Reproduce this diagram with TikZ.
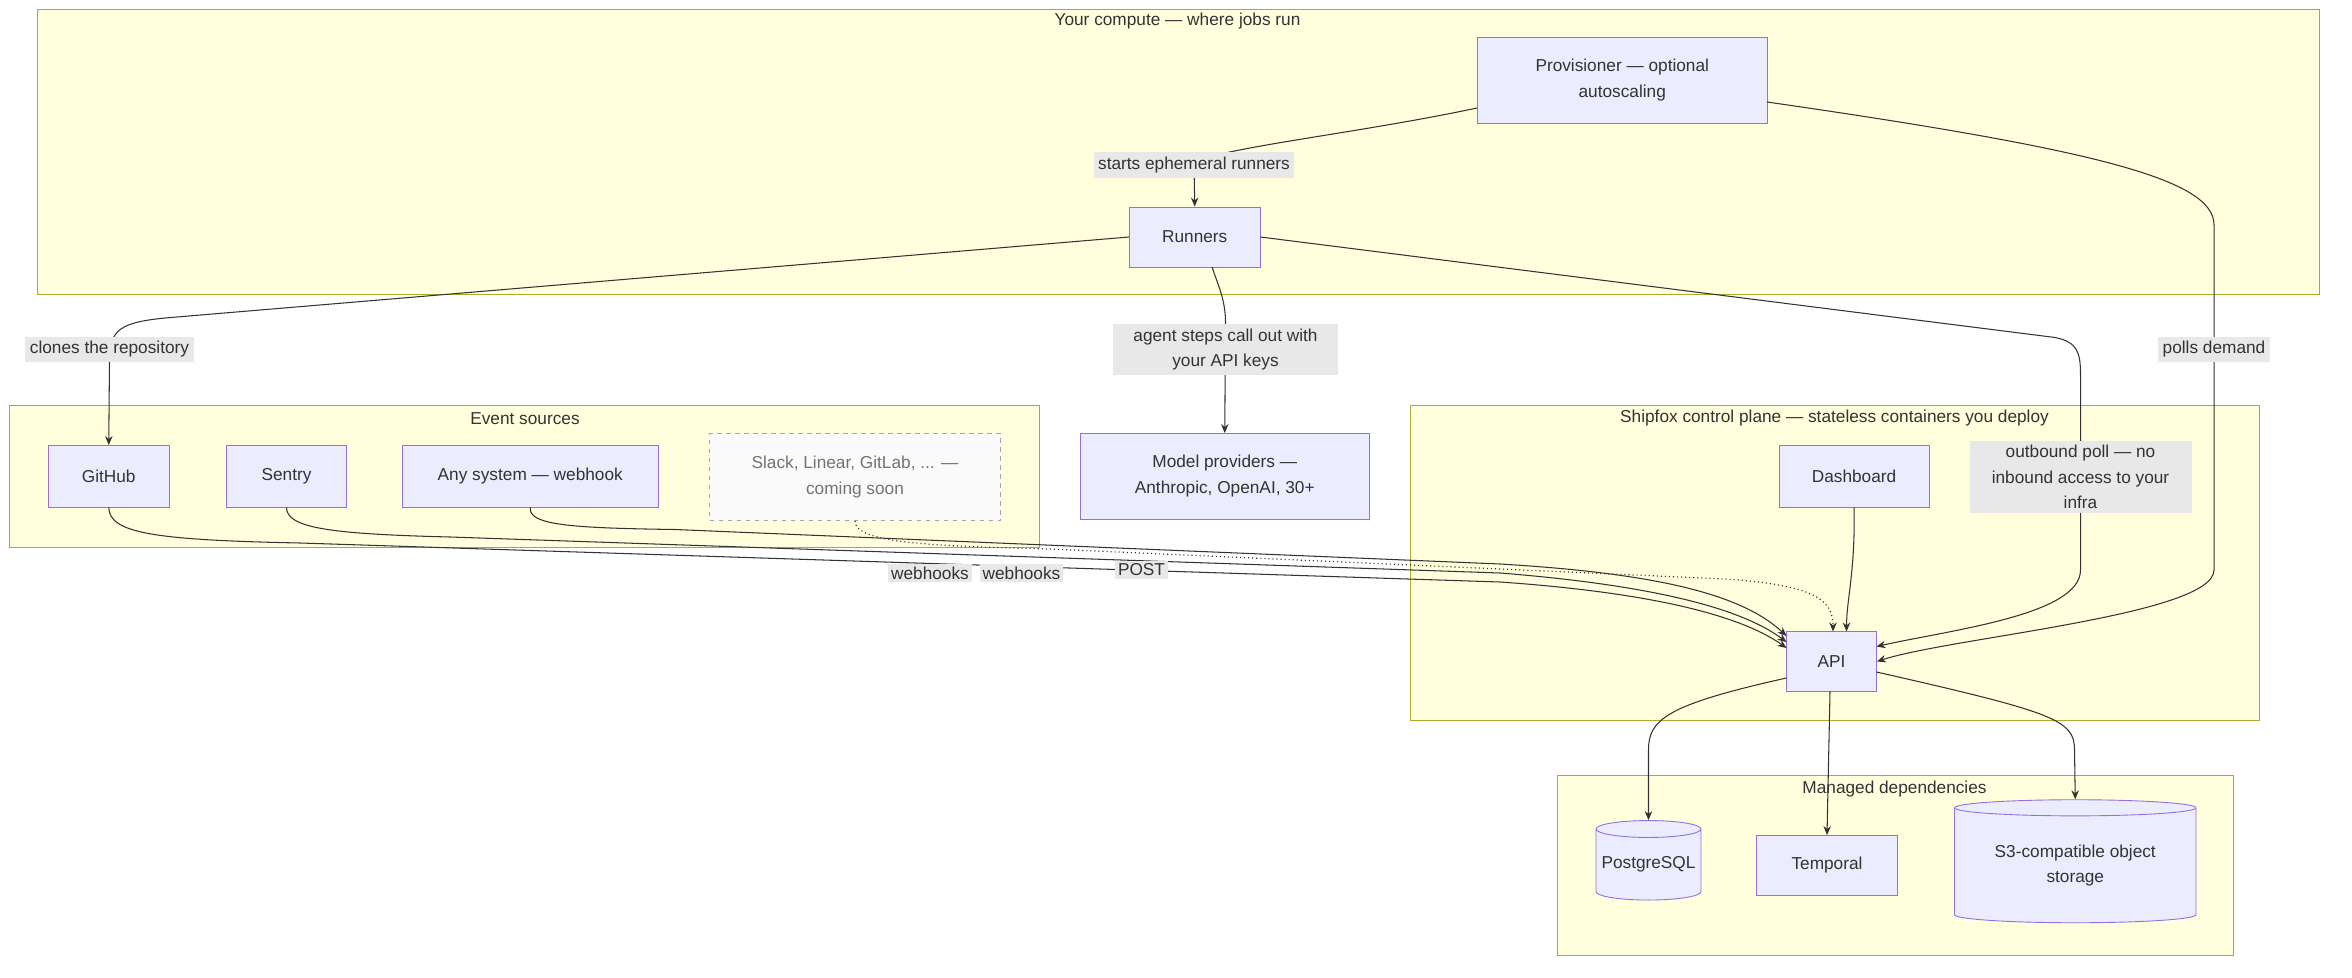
\documentclass[tikz,border=0pt]{standalone}
\usepackage{fontspec}
\setmainfont{Liberation Sans}
\usetikzlibrary{shapes.geometric,arrows.meta}
\definecolor{clf}{HTML}{FFFFDE}\definecolor{cld}{HTML}{AAAA33}
\definecolor{nf}{HTML}{ECECFF}\definecolor{nd}{HTML}{9370DB}
\definecolor{tx}{HTML}{333333}\definecolor{lb}{HTML}{E8E8E8}
\begin{document}
\begin{tikzpicture}[x=1pt,y=-1pt,font=\fontsize{11.5}{17}\selectfont,text=tx,
 cl/.style={draw=cld,fill=clf,line width=0.6pt},
 nd/.style={draw=nd,fill=nf,line width=0.6pt,align=center,inner sep=0},
 ttl/.style={inner sep=0},
 lab/.style={fill=lb,align=center,inner sep=3pt},
 e/.style={draw=tx,line width=0.7pt,-{Stealth[length=6pt,width=5pt]}}]
\useasboundingbox (0,0) rectangle (1568,652);
% clusters
\draw[cl] (25,6) rectangle (1546,196);
\node[ttl] (t1) at (785,14) {Your compute — where jobs run};
\draw[cl] (6,270) rectangle (693,365);
\node[ttl] (t2) at (350,279) {Event sources};
\draw[cl] (940,270) rectangle (1506,480);
\node[ttl] (t3) at (1223,279) {Shipfox control plane — stateless containers you deploy};
\draw[cl] (1038,517) rectangle (1489,637);
\node[ttl] (t4) at (1263,526) {Managed dependencies};
% nodes
\node[nd,minimum width=193,minimum height=57] (prov) at (1081.5,53.5) {Provisioner — optional\\autoscaling};
\node[nd,minimum width=87,minimum height=40] (run) at (796.5,158) {Runners};
\node[nd,minimum width=81,minimum height=41] (gh) at (72.5,317.5) {GitHub};
\node[nd,minimum width=80,minimum height=41] (sen) at (191,317.5) {Sentry};
\node[nd,minimum width=171,minimum height=41] (any) at (353.5,317.5) {Any system — webhook};
\node[nd,draw=gray!70,dashed,fill={rgb,255:red,250;green,250;blue,250},text=gray!90!black,minimum width=194,minimum height=58] (slk) at (570,318) {Slack, Linear, GitLab, ... —\\coming soon};
\node[nd,minimum width=193,minimum height=57] (mod) at (816.5,317.5) {Model providers —\\Anthropic, OpenAI, 30+};
\node[nd,minimum width=100,minimum height=41] (dash) at (1236,317.5) {Dashboard};
\node[nd,minimum width=60,minimum height=40] (api) at (1221,441) {API};
\node[nd,cylinder,shape border rotate=90,aspect=0.18,minimum width=70,minimum height=53] (pg) at (1099,576.5) {PostgreSQL};
\node[nd,minimum width=94,minimum height=40] (tmp) at (1218,577) {Temporal};
\node[nd,cylinder,shape border rotate=90,aspect=0.1,minimum width=161,minimum height=82] (s3) at (1383.5,577) {S3-compatible object\\storage};
% edges
\draw[e] (prov.west|-0,72) .. controls (900,90) and (800,100) .. (796,110) -- (run.north);
\node[lab] (l1) at (796,110) {starts ephemeral runners};
\draw[e] (1178,68) .. controls (1400,100) and (1476,120) .. (1476,150) -- (1476,380) .. controls (1476,410) and (1300,425) .. (api.east);
\node[lab] (l2) at (1476,233) {polls demand};
\draw[e] (run.west) -- (110,212) .. controls (80,215) and (73,220) .. (73,240) -- (gh.north);
\node[lab] (l3) at (73,233) {clones the repository};
\draw[e] (808,178) .. controls (812,190) and (817,200) .. (817,215) -- (mod.north);
\node[lab,minimum width=150] (l4) at (817,233) {agent steps call out with\\your API keys};
\draw[e] (run.east) -- (1370,225) .. controls (1385,228) and (1387,235) .. (1387,250) -- (1387,380) .. controls (1387,410) and (1300,420) .. (1251,431);
\node[lab,minimum width=148] (l5) at (1387,318) {outbound poll — no\\inbound access to your\\infra};
\draw[e] (gh.south) .. controls (73,355) and (100,360) .. (200,362) -- (1000,388) .. controls (1100,395) and (1160,410) .. (1191,432);
\draw[e] (sen.south) .. controls (191,352) and (220,356) .. (300,358) -- (1000,382) .. controls (1100,390) and (1160,405) .. (1191,428);
\draw[e] (any.south) .. controls (352,350) and (380,352) .. (450,353) -- (1000,376) .. controls (1100,382) and (1160,395) .. (1191,424);
\draw[e,dotted,line width=0.8pt] (slk.south) .. controls (570,362) and (620,364) .. (700,366) -- (1150,386) .. controls (1210,390) and (1222,400) .. (1222,421);
\node[lab,inner sep=2pt] (w1) at (620,382) {webhooks};
\node[lab,inner sep=2pt] (w2) at (681,382) {webhooks};
\node[lab,inner sep=2pt] (w3) at (761,380) {POST};
\draw[e] (dash.south) .. controls (1237,380) and (1231,400) .. (1231,421);
\draw[e] (1191,452) .. controls (1110,470) and (1099,480) .. (1099,500) -- (pg.top);
\draw[e] (1220,461) -- (tmp.north);
\draw[e] (1251,448) .. controls (1370,475) and (1383,480) .. (1383,500) -- (s3.top);
\end{tikzpicture}
\end{document}
